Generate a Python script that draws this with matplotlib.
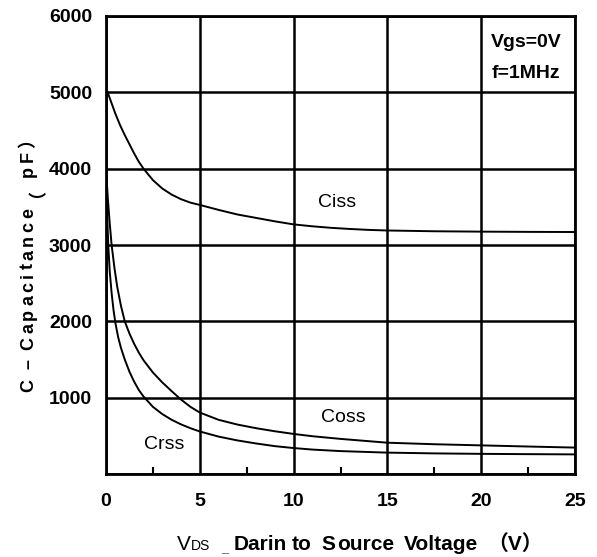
import matplotlib
matplotlib.use("Agg")
import matplotlib.pyplot as plt
from matplotlib.ticker import MultipleLocator

# Data
ciss_v = [0, 0.25, 0.5, 0.75, 1.0, 1.25, 1.5, 1.75, 2.0, 2.5, 3.0, 3.5, 4.0, 4.5, 5, 6, 7, 8, 9,
          10, 11, 12, 13, 14, 15, 17.5, 20, 22.5, 25]
ciss_c = [5060, 4890, 4720, 4570, 4440, 4320, 4200, 4090, 4000, 3850, 3740, 3660, 3600, 3555, 3525,
          3460, 3400, 3355, 3310, 3270, 3245, 3225, 3210, 3198, 3190, 3180, 3175, 3172, 3170]

coss_v = [0, 0.05, 0.1, 0.2, 0.3, 0.45, 0.6, 0.8, 1.0, 1.25, 1.5, 1.75, 2.0, 2.5, 3.0, 3.5, 4.0,
          4.5, 5, 6, 7, 8, 9, 10, 11, 12.5, 15, 17.5, 20, 22.5, 25]
coss_c = [4000, 3800, 3600, 3280, 3000, 2700, 2450, 2200, 2000, 1840, 1705, 1590, 1490, 1330, 1200,
          1085, 975, 880, 805, 710, 648, 600, 560, 525, 495, 460, 410, 390, 375, 360, 346]

crss_v = [0, 0.03, 0.07, 0.12, 0.2, 0.3, 0.4, 0.5, 0.65, 0.8, 1.0, 1.25, 1.5, 1.75, 2.0, 2.5, 3,
          3.5, 4, 4.5, 5, 6, 7, 8, 9, 10, 11, 12.5, 15, 17.5, 20, 22.5, 25]
crss_c = [4000, 3700, 3350, 3000, 2650, 2370, 2150, 1980, 1790, 1650, 1500, 1340, 1210, 1100, 1015,
          880, 785, 710, 650, 600, 557, 490, 440, 400, 365, 340, 320, 300, 280, 270, 264, 260, 257]

x_ticks = [0, 5, 10, 15, 20, 25]
y_ticks = [0, 1000, 2000, 3000, 4000, 5000, 6000]

W, H = 597, 557
sans = ['Liberation Sans', 'DejaVu Sans']
cjk = ['Liberation Sans', 'Noto Sans CJK SC', 'DejaVu Sans']

fig = plt.figure(figsize=(W / 100, H / 100), dpi=100)
ax = fig.add_axes([106 / W, 1 - 474 / H, (575 - 106) / W, (474 - 16) / H])

ax.plot(ciss_v, ciss_c, color='black', lw=1.4)
ax.plot(coss_v, coss_c, color='black', lw=1.4)
ax.plot(crss_v, crss_c, color='black', lw=1.4)

ax.set_xlim(0, 25)
ax.set_ylim(0, 6000)
ax.set_xticks(x_ticks)
ax.set_yticks(y_ticks)
ax.set_xticklabels([str(t) for t in x_ticks], family=sans, fontweight='bold', fontsize=14)
ax.set_yticklabels(['' if t == 0 else str(t) for t in y_ticks], family=sans, fontweight='bold', fontsize=14)
ax.xaxis.set_minor_locator(MultipleLocator(2.5))
ax.tick_params(axis='y', which='major', length=0, pad=10)
ax.tick_params(axis='x', which='major', length=0, pad=14)
ax.tick_params(axis='x', which='minor', direction='in', length=5, width=1.5, bottom=True)
ax.grid(True, which='major', color='black', lw=1.8)
for s in ax.spines.values():
    s.set_linewidth(2)
    s.set_color('black')

ax.text(12.31, 3551, 'Ciss', family=sans, fontsize=14, ha='center', va='center')
ax.text(12.63, 740, 'Coss', family=sans, fontsize=14, ha='center', va='center')
ax.text(3.09, 380, 'Crss', family=sans, fontsize=14, ha='center', va='center')
ax.text(22.4, 5653, 'Vgs=0V', family=sans, fontsize=14, fontweight='bold', ha='center', va='center')
ax.text(22.4, 5247, 'f=1MHz', family=sans, fontsize=14, fontweight='bold', ha='center', va='center')

# y-axis label, drawn with letter spacing as in the reference
renderer = fig.canvas.get_renderer()


def tracked_vertical(s, x_base, y_start, size, tracking, space):
    pos = 0.0
    for ch in s:
        if ch == ' ':
            pos += space
            continue
        t = fig.text(0, 0, ch, family=cjk, fontweight='bold', fontsize=size)
        bb = t.get_window_extent(renderer)
        t.remove()
        fig.text(x_base / W, (H - y_start + pos) / H, ch, family=cjk, fontweight='bold',
                 fontsize=size, rotation=90, rotation_mode='anchor', ha='left', va='baseline')
        pos += bb.width + tracking


tracked_vertical('C – Capacitance （pF）', 33, 392, 13, 3.6, 6)

# x-axis label pieces
base_y = 1 - 550 / H
fig.text(177 / W, base_y, 'V', family=sans, fontsize=15, ha='left', va='baseline')
fig.text(191 / W, base_y, 'DS', family=sans, fontsize=10, ha='left', va='baseline')
fig.text(221 / W, base_y - 1 / H, '_', family=sans, fontsize=9, color='#666666', ha='left', va='baseline')
fig.text(234 / W, base_y, 'Darin', family=sans, fontsize=15, fontweight='bold', ha='left', va='baseline')
fig.text(292 / W, base_y, 'to', family=sans, fontsize=15, fontweight='bold', ha='left', va='baseline')
fig.text(321 / W, base_y, 'S', family=sans, fontsize=15, fontweight='bold', ha='left', va='baseline')
fig.text(337 / W, base_y, 'ource', family=sans, fontsize=15, fontweight='bold', ha='left', va='baseline')
fig.text(404 / W, base_y, 'Voltage', family=sans, fontsize=15, fontweight='bold', ha='left', va='baseline')
fig.text(487 / W, base_y, '（V）', family=cjk, fontsize=15, fontweight='bold', ha='left', va='baseline')

fig.savefig('out.png', dpi=100)
